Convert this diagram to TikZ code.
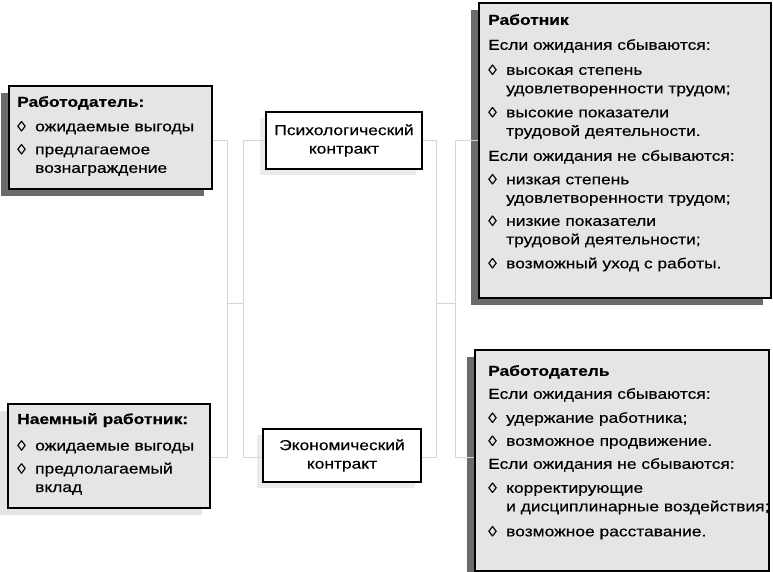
\documentclass[tikz,border=0pt]{standalone}
\usepackage{fontspec}
\setmainfont{Liberation Sans}[FakeStretch=1.2, UprightFeatures={FakeBold=0.35}, BoldFeatures={FakeBold=0.5}]
\usetikzlibrary{shadows,positioning}
\newcommand{\dm}{\makebox[18pt][l]{◊}}
\newcommand{\ind}{\hspace*{18pt}}
\tikzset{
  card/.style={draw=black, line width=1.6pt, fill=black!10, anchor=north west, inner sep=0pt,
    drop shadow={shadow xshift=-8pt, shadow yshift=-7pt, fill=black!58, opacity=1}},
  palecard/.style={card, drop shadow={shadow xshift=-8pt, shadow yshift=-7pt, fill=black!10, opacity=1}},
  deal/.style={draw=black, line width=1.6pt, fill=white, align=center, inner sep=0pt,
    font=\fontsize{14.5}{18.5}\selectfont,
    drop shadow={shadow xshift=-6pt, shadow yshift=-6pt, fill=black!8, opacity=1}},
  txt/.style={anchor=north west, align=left, inner sep=0pt, font=\fontsize{14.5}{18.5}\selectfont},
  link/.style={draw=black!16, line width=0.9pt}
}
\begin{document}
\begin{tikzpicture}[x=1pt,y=-1pt]
\useasboundingbox[fill=white] (0,0) rectangle (773,571);

\node[card, minimum width=203pt, minimum height=103pt] (emp) at (8,85) {};
\node[palecard, minimum width=202pt, minimum height=104pt] (hire) at (7,403) {};
\node[card, minimum width=292pt, minimum height=295pt] (wrk) at (478,2) {};
\node[card, minimum width=294pt, minimum height=221pt] (boss) at (474,349) {};
\node[deal, minimum width=156pt, minimum height=57pt] (psy) at (344,140.5) {Психологический\\контракт};
\node[deal, minimum width=158pt, minimum height=53pt] (eco) at (342,455.5) {Экономический\\контракт};

\node[txt] at ([shift={(9pt,-11pt)}]emp.north west) {{\bfseries Работодатель:}\\[6pt]
  \dm ожидаемые выгоды\\[4.5pt]
  \dm предлагаемое\\
  \ind вознаграждение};
\node[txt] at ([shift={(10pt,-10pt)}]hire.north west) {{\bfseries Наемный работник:}\\[8pt]
  \dm ожидаемые выгоды\\[4.5pt]
  \dm предлолагаемый\\
  \ind вклад};
\node[txt] at ([shift={(10pt,-12pt)}]wrk.north west) {{\bfseries Работник}\\[6.5pt]
  Если ожидания сбываются:\\[6.5pt]
  \dm высокая степень\\
  \ind удовлетворенности трудом;\\[5.5pt]
  \dm высокие показатели\\
  \ind трудовой деятельности.\\[6.5pt]
  Если ожидания не сбываются:\\[5pt]
  \dm низкая степень\\
  \ind удовлетворенности трудом;\\[4.5pt]
  \dm низкие показатели\\
  \ind трудовой деятельности;\\[5.5pt]
  \dm возможный уход с работы.};
\node[txt] at ([shift={(14pt,-16pt)}]boss.north west) {{\bfseries Работодатель}\\[4.5pt]
  Если ожидания сбываются:\\[5.5pt]
  \dm удержание работника;\\[4.5pt]
  \dm возможное продвижение.\\[4.5pt]
  Если ожидания не сбываются:\\[5.5pt]
  \dm корректирующие\\
  \ind и дисциплинарные воздействия;\\[6.5pt]
  \dm возможное расставание.};

\coordinate (la) at (227,140);
\coordinate (lb) at (243,140);
\coordinate (lc) at (227,457);
\coordinate (ld) at (243,457);
\coordinate (lm) at (227,303);
\coordinate (ra) at (436,140);
\coordinate (rb) at (455,140);
\coordinate (rc) at (436,457);
\coordinate (rd) at (455,457);
\coordinate (rm) at (436,303);

\draw[link] (emp.east |- la) -- (la) -- (lc) -- (hire.east |- lc);
\draw[link] (psy.west |- lb) -- (lb) -- (ld) -- (eco.west |- ld);
\draw[link] (lm) -- (lb |- lm);
\draw[link] (psy.east |- ra) -- (ra) -- (rc) -- (eco.east |- rc);
\draw[link] (wrk.west |- rb) -- (rb) -- (rd) -- (boss.west |- rd);
\draw[link] (rm) -- (rb |- rm);
\end{tikzpicture}
\end{document}
